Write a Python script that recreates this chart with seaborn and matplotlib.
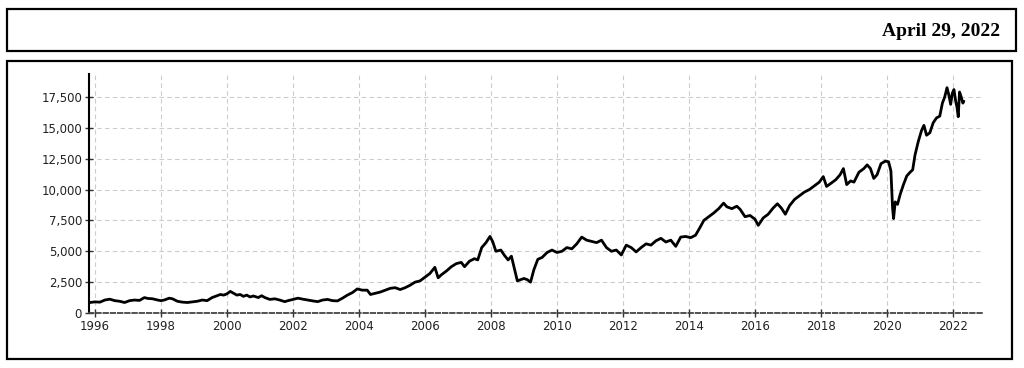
import numpy as np
import pandas as pd
import matplotlib
matplotlib.use("Agg")
import matplotlib.pyplot as plt
import seaborn as sns
from matplotlib.patches import Rectangle
from matplotlib.ticker import FuncFormatter

# index level (decimal year, value)
years = [
    1995.85, 1996.0, 1996.15, 1996.3, 1996.45, 1996.6, 1996.75, 1996.9, 1997.05, 1997.2,
    1997.35, 1997.5, 1997.6, 1997.75, 1997.9, 1998.0, 1998.1, 1998.25, 1998.35, 1998.5,
    1998.65, 1998.8, 1998.95, 1999.1, 1999.25, 1999.4, 1999.55, 1999.7, 1999.8, 1999.9,
    2000.0, 2000.1, 2000.2, 2000.3, 2000.4, 2000.5, 2000.6, 2000.7, 2000.8, 2000.95,
    2001.05, 2001.15, 2001.3, 2001.45, 2001.6, 2001.75, 2001.85, 2002.0, 2002.15, 2002.3,
    2002.45, 2002.6, 2002.75, 2002.9, 2003.05, 2003.2, 2003.35, 2003.5, 2003.65, 2003.8,
    2003.95, 2004.1, 2004.25, 2004.35, 2004.5, 2004.65, 2004.8, 2004.95, 2005.1, 2005.25,
    2005.4, 2005.55, 2005.7, 2005.85, 2006.0, 2006.15, 2006.3, 2006.4, 2006.5, 2006.65,
    2006.8, 2006.95, 2007.1, 2007.2, 2007.35, 2007.5, 2007.6, 2007.72, 2007.85, 2007.97,
    2008.05, 2008.15, 2008.3, 2008.4, 2008.52, 2008.62, 2008.72, 2008.8, 2008.9, 2009.0,
    2009.1, 2009.2, 2009.3, 2009.42, 2009.55, 2009.7, 2009.85, 2010.0, 2010.15, 2010.3,
    2010.45, 2010.6, 2010.75, 2010.9, 2011.05, 2011.2, 2011.35, 2011.5, 2011.65, 2011.8,
    2011.95, 2012.1, 2012.25, 2012.4, 2012.55, 2012.7, 2012.85, 2013.0, 2013.15, 2013.3,
    2013.45, 2013.6, 2013.75, 2013.9, 2014.05, 2014.2, 2014.35, 2014.45, 2014.6, 2014.75,
    2014.9, 2015.05, 2015.15, 2015.3, 2015.45, 2015.55, 2015.7, 2015.85, 2016.0, 2016.1,
    2016.25, 2016.4, 2016.55, 2016.68, 2016.8, 2016.92, 2017.05, 2017.2, 2017.35, 2017.5,
    2017.65, 2017.8, 2017.95, 2018.07, 2018.17, 2018.3, 2018.45, 2018.58, 2018.68, 2018.78,
    2018.9, 2019.0, 2019.15, 2019.3, 2019.4, 2019.5, 2019.6, 2019.7, 2019.82, 2019.95,
    2020.05, 2020.12, 2020.17, 2020.2, 2020.25, 2020.32, 2020.4, 2020.5, 2020.6, 2020.7,
    2020.78, 2020.85, 2020.95, 2021.05, 2021.12, 2021.2, 2021.3, 2021.4, 2021.5, 2021.6,
    2021.68, 2021.75, 2021.82, 2021.88, 2021.93, 2021.98, 2022.03, 2022.08, 2022.12, 2022.16,
    2022.2, 2022.25, 2022.3, 2022.33,
]
values = [
    850, 900, 880, 1050, 1120, 1000, 950, 850, 1000, 1050,
    1020, 1250, 1180, 1150, 1050, 1000, 1050, 1200, 1150, 950,
    880, 850, 900, 950, 1050, 1000, 1250, 1400, 1500, 1450,
    1550, 1750, 1600, 1450, 1500, 1350, 1450, 1300, 1380, 1250,
    1400, 1250, 1100, 1150, 1050, 920, 1000, 1100, 1200, 1120,
    1050, 980, 920, 1050, 1100, 1000, 980, 1200, 1450, 1650,
    1950, 1850, 1850, 1500, 1600, 1700, 1850, 2000, 2050, 1900,
    2050, 2250, 2500, 2600, 2900, 3200, 3700, 2850, 3100, 3400,
    3750, 4000, 4100, 3750, 4200, 4400, 4300, 5300, 5700, 6200,
    5800, 5000, 5100, 4700, 4300, 4600, 3500, 2600, 2700, 2800,
    2700, 2500, 3500, 4350, 4500, 4900, 5100, 4900, 5000, 5300,
    5200, 5600, 6150, 5900, 5800, 5700, 5900, 5300, 5000, 5100,
    4700, 5500, 5300, 4950, 5300, 5600, 5500, 5850, 6050, 5750,
    5900, 5400, 6150, 6200, 6100, 6300, 7000, 7500, 7800, 8100,
    8450, 8900, 8600, 8450, 8650, 8400, 7800, 7900, 7600, 7100,
    7700, 8000, 8500, 8850, 8500, 8000, 8700, 9200, 9500, 9800,
    10000, 10300, 10600, 11050, 10250, 10500, 10800, 11200, 11700, 10400,
    10700, 10600, 11400, 11700, 12000, 11700, 10900, 11200, 12100, 12300,
    12250, 11500, 8500, 7650, 9000, 8800, 9600, 10400, 11100, 11400,
    11600, 12800, 13900, 14800, 15200, 14400, 14600, 15400, 15800, 15950,
    17000, 17500, 18250, 17600, 16900, 17800, 18100, 17200, 16700, 15900,
    17900, 17500, 17000, 17150,
]
x_ticks = list(range(1996, 2023, 2))
y_ticks = [0, 2500, 5000, 7500, 10000, 12500, 15000, 17500]
date_label = "April 29, 2022"

df = pd.DataFrame({"year": years, "value": values})

sns.set_style("white")
plt.rcParams["font.family"] = ["DejaVu Sans"]

fig = plt.figure(figsize=(10.24, 3.68), dpi=100)

# frames around header and chart
fig.add_artist(Rectangle((7 / 1024, 1 - 51 / 368), 1009 / 1024, 42 / 368,
                         transform=fig.transFigure, fill=False, lw=1.6, ec="black"))
fig.add_artist(Rectangle((7 / 1024, 1 - 359 / 368), 1005 / 1024, 298 / 368,
                         transform=fig.transFigure, fill=False, lw=1.6, ec="black"))
fig.text(1000 / 1024, 1 - 31 / 368, date_label, ha="right", va="center", color="black",
         family=["Liberation Serif", "DejaVu Serif"], fontweight="bold", fontsize=14)

ax = fig.add_axes([89 / 1024, 1 - 313 / 368, 893 / 1024, 239 / 368])
sns.lineplot(data=df, x="year", y="value", ax=ax, color="black", lw=2.0)

ax.set_xlim(1995.82, 2022.88)
ax.set_ylim(0, 19360)
ax.set_xticks(x_ticks)
ax.set_yticks(y_ticks)
ax.yaxis.set_major_formatter(FuncFormatter(lambda v, p: f"{int(v):,}"))
ax.set_xlabel("")
ax.set_ylabel("")

ax.grid(True, color="#cccccc", ls=(0, (4, 3)), lw=0.8)
for s in ["top", "right"]:
    ax.spines[s].set_visible(False)
ax.spines["left"].set_color("black")
ax.spines["left"].set_linewidth(1.5)
ax.spines["bottom"].set_color("#444444")
ax.spines["bottom"].set_linewidth(1.3)
ax.spines["bottom"].set_linestyle((0, (2.5, 1.5)))
ax.tick_params(axis="both", which="major", direction="inout", length=6, width=1,
               color="#333333", labelsize=8.5, labelcolor="#222222", pad=2,
               left=True, bottom=True)

fig.savefig("out.png", dpi=100)
